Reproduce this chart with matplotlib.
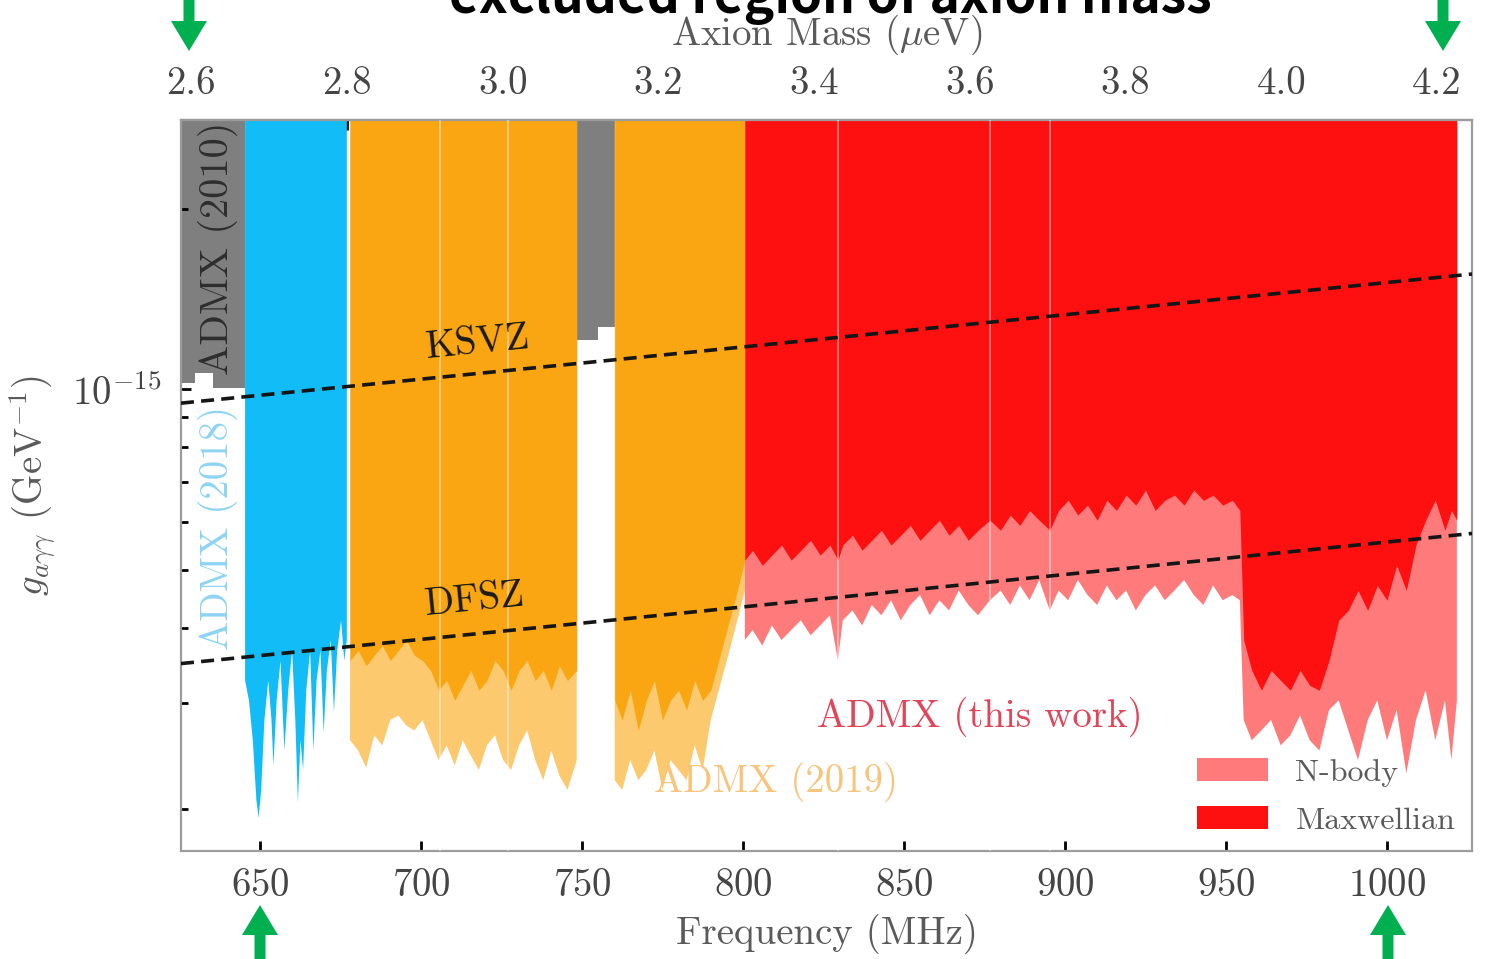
import numpy as np
import matplotlib
matplotlib.use("Agg")
import matplotlib.pyplot as plt
from matplotlib.patches import Patch, FancyArrow
from matplotlib.ticker import FixedLocator, NullFormatter, FormatStrFormatter, LogLocator

plt.rcParams["font.family"] = "serif"
plt.rcParams["font.serif"] = ["cmr10"]
plt.rcParams["mathtext.fontset"] = "cm"
plt.rcParams["axes.formatter.use_mathtext"] = True

# ---- data (frequency in MHz, couplings in units of 1e-16 GeV^-1) ----
UNIT = 1e-16
H_UEV_PER_MHZ = 4.135667e-3      # axion mass (ueV) per MHz

ksvz_freq = [625.5, 1026.4]
ksvz_g = [9.48, 15.56]
dfsz_freq = [625.5, 1026.4]
dfsz_g = [3.49, 5.75]

# ADMX (2010), two pieces, step edges
admx2010a_freq = [625.5, 629.8, 635.3, 645.3]
admx2010a_g = [10.23, 10.63, 10.04, 10.04]
admx2010b_freq = [748.4, 754.9, 760.2]
admx2010b_g = [12.07, 12.69, 12.69]

# ADMX (2018)
admx2018_freq = [645.4, 646.6, 647.8, 648.9, 649.6, 650.4, 651.4, 652.6, 653.6, 654.2,
                 655.2, 656.4, 657.6, 658.8, 660.0, 661.0, 661.8, 662.6, 663.4, 664.4,
                 665.6, 666.6, 667.6, 668.8, 669.8, 670.8, 672.0, 673.0, 674.0, 675.2,
                 676.2, 677.0]
admx2018_g = [3.27, 3.03, 2.60, 2.07, 1.93, 2.15, 2.81, 3.27, 2.81, 2.36,
              3.03, 3.53, 2.50, 3.15, 3.67, 2.81, 2.05, 2.60, 2.32, 3.15,
              3.67, 2.50, 3.27, 3.67, 2.68, 3.40, 3.82, 2.90, 3.67, 4.12,
              3.53, 3.82]

# ADMX (2019), first band
admx2019a_freq = [678.0, 680.5, 683.0, 685.5, 688.0, 690.5, 693.0, 695.5, 698.0, 700.5,
                  703.0, 705.5, 708.0, 710.5, 713.0, 715.5, 718.0, 720.5, 723.0, 725.5,
                  728.0, 730.5, 733.0, 735.5, 738.0, 740.5, 743.0, 745.5, 748.4]
admx2019a_max = [3.53, 3.67, 3.46, 3.60, 3.74, 3.53, 3.67, 3.82, 3.60, 3.53,
                 3.40, 3.15, 3.27, 3.03, 3.21, 3.40, 3.15, 3.27, 3.53, 3.40,
                 3.15, 3.40, 3.53, 3.27, 3.40, 3.15, 3.46, 3.27, 3.40]
admx2019a_nb = [2.60, 2.50, 2.34, 2.65, 2.55, 2.81, 2.86, 2.75, 2.70, 2.81,
                2.60, 2.41, 2.55, 2.36, 2.60, 2.45, 2.32, 2.55, 2.65, 2.41,
                2.32, 2.55, 2.70, 2.41, 2.23, 2.50, 2.27, 2.15, 2.41]
# ADMX (2019), second band
admx2019b_freq = [760.2, 762.5, 765.0, 767.5, 770.0, 772.5, 775.0, 777.5, 780.0, 782.5,
                  785.0, 787.5, 790.0, 792.5, 795.0, 797.5, 800.6]
admx2019b_max = [3.03, 2.81, 3.15, 2.70, 3.03, 3.27, 2.81, 3.03, 3.15, 2.92,
                 3.27, 3.03, 3.15, 3.53, 3.97, 4.45, 5.19]
admx2019b_nb = [2.23, 2.15, 2.41, 2.23, 2.32, 2.50, 2.15, 2.41, 2.32, 2.23,
                2.55, 2.32, 2.81, 3.15, 3.53, 3.97, 4.62]

# ADMX (this work)
this_freq = [800.6, 803, 806, 809, 812, 815, 818, 821, 824, 827,
             829.5, 831, 834, 837, 840, 843, 846, 849, 852, 855,
             858, 861, 864, 867, 870, 873, 876.7, 880, 883, 886,
             889, 892, 895.3, 898, 901, 904, 907, 910, 913, 916,
             919, 922, 925, 928, 931, 934, 937, 940, 943, 946,
             949, 952, 954.3, 955.5, 958, 961, 964, 967, 970, 973,
             976, 979, 982, 985, 988, 991, 994, 997, 1000, 1003,
             1006, 1009, 1012, 1015, 1018, 1020, 1021.7]
this_max = [5.19, 5.39, 5.09, 5.29, 5.50, 5.19, 5.39, 5.60, 5.29, 5.50,
            5.19, 5.50, 5.71, 5.39, 5.60, 5.82, 5.50, 5.71, 5.93, 5.60,
            5.82, 6.05, 5.71, 5.93, 5.60, 5.82, 6.05, 5.82, 6.17, 5.93,
            6.28, 6.05, 5.82, 6.28, 6.53, 6.17, 6.41, 6.05, 6.53, 6.28,
            6.66, 6.41, 6.79, 6.28, 6.53, 6.66, 6.41, 6.79, 6.53, 6.66,
            6.41, 6.53, 6.28, 3.82, 3.40, 3.15, 3.40, 3.27, 3.15, 3.40,
            3.21, 3.15, 3.53, 4.12, 4.28, 4.62, 4.28, 4.71, 4.45, 5.09,
            4.62, 5.50, 6.05, 6.53, 5.82, 6.28, 6.05]
this_nb = [3.82, 3.97, 3.74, 4.04, 3.82, 3.97, 4.12, 3.89, 4.04, 4.20,
           3.53, 4.12, 4.28, 4.04, 4.37, 4.20, 4.45, 4.12, 4.37, 4.54,
           4.20, 4.45, 4.28, 4.62, 4.37, 4.20, 4.45, 4.62, 4.37, 4.71,
           4.45, 4.81, 4.28, 4.62, 4.45, 4.81, 4.54, 4.37, 4.71, 4.45,
           4.62, 4.28, 4.54, 4.71, 4.45, 4.62, 4.81, 4.54, 4.37, 4.71,
           4.45, 4.54, 4.45, 2.81, 2.60, 2.70, 2.81, 2.55, 2.65, 2.86,
           2.60, 2.50, 2.92, 3.03, 2.70, 2.41, 2.81, 3.03, 2.60, 2.92,
           2.29, 2.81, 3.15, 2.60, 3.03, 2.41, 3.03]

# thin gaps in the scans
gap_freq_2019 = [705.9, 727.0]
gap_freq_this = [829.5, 876.7, 895.3]

# ---- colours ----
C_GRAY = "#7f7f7f"
C_BLUE = "#12bcf7"
C_ORANGE = "#faa512"
C_ORANGE_LT = "#fdc96f"
C_RED = "#ff1010"
C_PINK = "#ff7b7b"
C_TICK = "#454545"
C_LABEL = "#5a5a5a"

XMIN, XMAX = 625.5, 1026.4
YMIN, YMAX = 1.70e-16, 2.81e-15
TOP = 1e-14

fig = plt.figure(figsize=(14.86, 9.59), dpi=100)
ax = fig.add_axes([181 / 1486, 1 - 851 / 959, 1291 / 1486, 731 / 959])
ax.set_yscale("log")
ax.set_xlim(XMIN, XMAX)
ax.set_ylim(YMIN, YMAX)


def arr(v):
    return np.asarray(v, dtype=float) * UNIT


# exclusion regions
ax.fill_between(admx2010a_freq, arr(admx2010a_g), TOP, step="post", color=C_GRAY, lw=0, zorder=1)
ax.fill_between(admx2010b_freq, arr(admx2010b_g), TOP, step="post", color=C_GRAY, lw=0, zorder=1)
ax.fill_between(admx2018_freq, arr(admx2018_g), TOP, color=C_BLUE, lw=0, zorder=1)
for fr, mx, nb in [(admx2019a_freq, admx2019a_max, admx2019a_nb),
                   (admx2019b_freq, admx2019b_max, admx2019b_nb)]:
    ax.fill_between(fr, arr(nb), TOP, color=C_ORANGE_LT, lw=0, zorder=1)
    ax.fill_between(fr, arr(mx), TOP, color=C_ORANGE, lw=0, zorder=2)
ax.fill_between(this_freq, arr(this_nb), TOP, color=C_PINK, lw=0, zorder=1)
ax.fill_between(this_freq, arr(this_max), TOP, color=C_RED, lw=0, zorder=2)

ax.vlines(gap_freq_2019 + gap_freq_this, YMIN, TOP, color="white", lw=1.3, alpha=0.45, zorder=3)

# benchmark models
ax.plot(ksvz_freq, arr(ksvz_g), ls=(0, (3.6, 2.0)), color="#151515", lw=2.6, zorder=4)
ax.plot(dfsz_freq, arr(dfsz_g), ls=(0, (3.6, 2.0)), color="#151515", lw=2.6, zorder=4)

FS = 28
ax.text(717.7, 1.193e-15, "KSVZ", fontsize=FS, rotation=5.6, ha="center", va="center", color="#1a1a1a", zorder=5)
ax.text(716.8, 4.45e-16, "DFSZ", fontsize=FS, rotation=5.6, ha="center", va="center", color="#1a1a1a", zorder=5)
ax.text(637.0, 1.72e-15, "ADMX (2010)", fontsize=29, rotation=90, ha="center", va="center",
        color="#2e2e2e", zorder=5, clip_on=True)
ax.text(637.0, 5.87e-16, "ADMX (2018)", fontsize=FS, rotation=90, ha="center", va="center",
        color="#8ed4f2", zorder=5)
ax.text(873.6, 2.84e-16, "ADMX (this work)", fontsize=FS, ha="center", va="center", color="#e04559", zorder=5)
ax.text(810.2, 2.22e-16, "ADMX (2019)", fontsize=FS, ha="center", va="center", color="#f8c47c", zorder=5)

leg = ax.legend(handles=[Patch(facecolor=C_PINK, edgecolor="none", label="N-body"),
                         Patch(facecolor=C_RED, edgecolor="none", label="Maxwellian")],
                loc="lower right", bbox_to_anchor=(0.997, 0.005), borderaxespad=0, frameon=False,
                fontsize=23, handlelength=2.2, handleheight=0.72, handletextpad=0.87, labelspacing=0.6)
for t in leg.get_texts():
    t.set_color(C_LABEL)

# axes styling
for sp in ax.spines.values():
    sp.set_color("#9c9c9c")
    sp.set_linewidth(1.6)
ax.set_xticks([650, 700, 750, 800, 850, 900, 950, 1000])
ax.yaxis.set_major_locator(LogLocator(base=10, numticks=10))
ax.yaxis.set_minor_locator(LogLocator(base=10, subs=np.arange(2, 10), numticks=10))
ax.yaxis.set_minor_formatter(NullFormatter())
ax.tick_params(which="both", direction="in", color="black", top=False, right=False,
               labelsize=FS, labelcolor=C_TICK)
ax.tick_params(which="major", length=7, width=2)
ax.tick_params(which="minor", length=5, width=2)
ax.tick_params(axis="x", pad=12)
ax.tick_params(axis="y", pad=14)
ax.set_xlabel("Frequency (MHz)", fontsize=FS, color=C_LABEL, labelpad=7)
ax.set_ylabel(r"$g_{a\gamma\gamma}$ (GeV$^{-1}$)", fontsize=FS, color=C_LABEL, labelpad=10)

sec = ax.secondary_xaxis("top", functions=(lambda f: f * H_UEV_PER_MHZ, lambda m: m / H_UEV_PER_MHZ))
sec.xaxis.set_major_locator(FixedLocator([2.6, 2.8, 3.0, 3.2, 3.4, 3.6, 3.8, 4.0, 4.2]))
sec.xaxis.set_major_formatter(FormatStrFormatter("%.1f"))
sec.tick_params(direction="in", length=7, width=2, color="black", labelsize=FS, labelcolor=C_TICK, pad=13)
sec.spines["top"].set_color("#9c9c9c")
sec.spines["top"].set_linewidth(1.6)
sec.set_xlabel(r"Axion Mass ($\mu$eV)", fontsize=FS, color=C_LABEL, labelpad=15)

# annotation overlay (pixel coordinates)
ov = fig.add_axes([0, 0, 1, 1], facecolor="none")
ov.set_xlim(0, 1486)
ov.set_ylim(959, 0)
ov.axis("off")
GREEN = "#00b050"
for x0, y0, dy in [(189, -6, 57), (1443, -6, 57), (260, 965, -60), (1388, 965, -60)]:
    ov.add_patch(FancyArrow(x0, y0, 0, dy, width=11, head_width=36, head_length=30,
                            length_includes_head=True, color=GREEN, lw=0))
ov.text(830, 13, "excluded region of axion mass", fontsize=37, fontweight="bold",
        family=["Noto Sans CJK JP", "DejaVu Sans"], ha="center", va="baseline", color="black")

fig.savefig("out.png", dpi=100)
